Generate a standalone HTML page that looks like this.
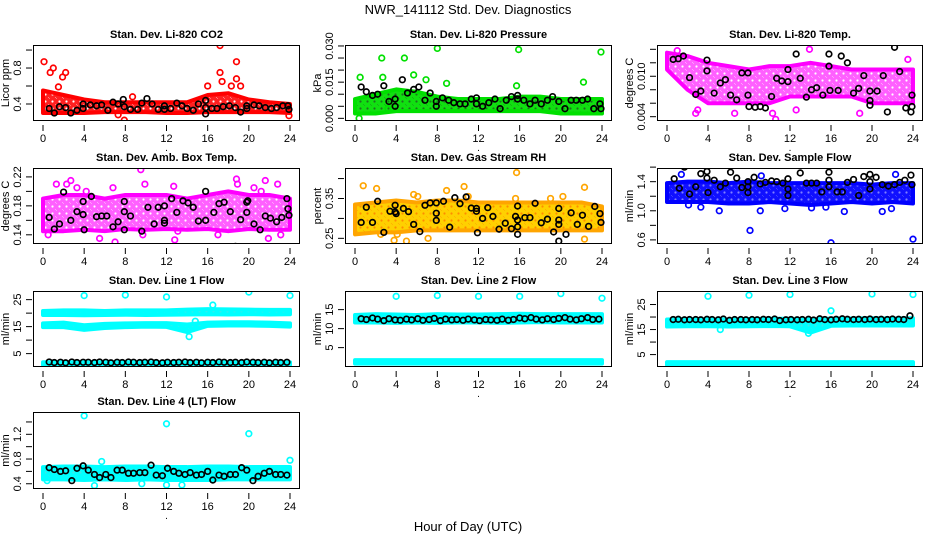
<!DOCTYPE html>
<html><head><meta charset="utf-8"><style>
html,body{margin:0;padding:0;background:#fff;}
svg text{font-family:"Liberation Sans",sans-serif;}
</style></head><body>
<svg id="chart" width="936" height="540" xmlns="http://www.w3.org/2000/svg">
<defs id="defs"></defs>
<text x="468" y="14" font-size="13" text-anchor="middle">NWR_141112  Std. Dev. Diagnostics</text>
<text x="468" y="531" font-size="13" text-anchor="middle">Hour of Day (UTC)</text>
</svg>
<script>
// ---- shared data ----
const bandHours = [0,2,4,6,8,10,12,14,16,18,20,22,24];
const xTicks = [0,4,8,12,16,20,24];
const hourGrid = [0.6,1.1,1.7,2.2,2.8,3.3,3.9,4.4,5.0,5.5,6.1,6.6,7.2,7.7,8.3,8.8,9.4,9.9,10.5,11.0,11.6,12.1,12.7,13.2,13.8,14.3,14.9,15.4,16.0,16.5,17.1,17.6,18.2,18.7,19.3,19.8,20.4,20.9,21.5,22.0,22.6,23.1,23.7];

// ---- panel 1: CO2 ----
const co2Lo = [0.30,0.30,0.30,0.31,0.31,0.31,0.30,0.30,0.31,0.31,0.31,0.31,0.30];
const co2Hi = [0.55,0.50,0.45,0.42,0.42,0.42,0.42,0.42,0.50,0.52,0.45,0.42,0.40];
const co2Out = [[0.1,0.87],[0.7,0.75],[1.0,0.80],[1.9,0.70],[2.2,0.75],[1.5,0.59],[7.9,0.22],[7.3,0.28],[16,0.6],[17.2,1.05],[17.2,0.75],[17.4,0.65],[18.8,0.87],[18.8,0.68],[18.3,0.60],[19.2,0.60],[23.9,0.27],[8.7,0.48]];
const co2Black = [[0.6,0.35],[1.1,0.30],[1.6,0.37],[2.2,0.36],[2.7,0.30],[3.3,0.33],[3.9,0.40],[3.9,0.35],[4.6,0.39],[5.2,0.38],[5.7,0.39],[6.3,0.33],[6.8,0.42],[7.3,0.40],[7.8,0.45],[7.9,0.37],[8.5,0.34],[9.2,0.34],[9.6,0.41],[10.1,0.46],[10.6,0.40],[11.2,0.34],[11.8,0.34],[11.8,0.38],[12.4,0.35],[13.0,0.41],[13.5,0.38],[14.0,0.35],[14.6,0.33],[15.1,0.40],[15.8,0.44],[15.8,0.29],[15.8,0.36],[16.4,0.35],[16.9,0.35],[17.5,0.37],[18.1,0.38],[18.7,0.36],[19.2,0.31],[19.8,0.38],[19.8,0.35],[20.5,0.39],[21.0,0.38],[21.6,0.36],[22.2,0.35],[22.7,0.36],[23.3,0.38],[23.8,0.38],[23.9,0.34]];

// ---- panel 2: pressure ----
const prLo = [0.002,0.002,0.003,0.003,0.003,0.003,0.003,0.003,0.003,0.003,0.002,0.002,0.002];
const prHi = [0.008,0.010,0.012,0.011,0.009,0.008,0.008,0.008,0.009,0.009,0.008,0.008,0.008];
const prOut = [[0.5,0.017],[0.4,0.0],[2.6,0.025],[2.7,0.017],[4.8,0.025],[5.7,0.018],[6.9,0.016],[8.0,0.029],[8.9,0.0145],[15.9,0.0285],[15.7,0.0135],[22.2,0.015],[23.9,0.0275],[3.2,0.004]];
const prBlack = [[0.6,0.013],[1.1,0.011],[1.7,0.0095],[2.2,0.010],[2.8,0.0135],[3.3,0.007],[3.9,0.008],[3.9,0.005],[4.6,0.016],[5.1,0.0105],[5.7,0.012],[6.2,0.013],[6.8,0.0075],[7.3,0.0105],[7.9,0.007],[7.9,0.005],[8.5,0.0085],[9.1,0.0075],[9.6,0.0065],[10.2,0.006],[10.7,0.006],[11.3,0.008],[11.8,0.0085],[11.8,0.006],[12.4,0.005],[13.0,0.0065],[13.6,0.008],[14.1,0.004],[14.7,0.0075],[15.2,0.009],[15.8,0.0095],[15.8,0.008],[16.4,0.0075],[17.0,0.006],[17.5,0.0075],[18.1,0.006],[18.7,0.0075],[19.2,0.009],[19.8,0.007],[20.4,0.004],[21.0,0.0075],[21.5,0.0075],[22.1,0.0075],[22.6,0.008],[23.2,0.004],[23.8,0.006],[23.9,0.004]];

// ---- panel 3: Li-820 temp ----
const tLo = [0.011,0.008,0.006,0.006,0.006,0.006,0.007,0.007,0.007,0.007,0.006,0.006,0.006];
const tHi = [0.0135,0.013,0.012,0.0115,0.011,0.0115,0.0115,0.012,0.0115,0.011,0.011,0.011,0.011];
const tOut = [[2.8,0.0045],[3.0,0.005],[6.6,0.0045],[10.3,0.0045],[10.6,0.0036],[12.6,0.005],[13.9,0.014],[18.8,0.0045],[23.5,0.0125],[1.0,0.0138]];
const tBlack = [[0.6,0.0125],[1.1,0.0126],[1.6,0.013],[2.2,0.0098],[2.8,0.0073],[3.3,0.0078],[3.9,0.0124],[3.9,0.0108],[4.6,0.0075],[5.2,0.009],[5.7,0.0095],[6.2,0.0072],[6.8,0.0065],[7.3,0.0105],[7.9,0.0105],[7.9,0.0072],[8.0,0.0055],[8.6,0.0054],[9.1,0.0055],[9.6,0.0053],[10.2,0.007],[10.7,0.0097],[11.2,0.0093],[11.8,0.011],[11.8,0.0092],[12.6,0.0133],[13.0,0.0097],[13.6,0.0069],[14.1,0.008],[14.6,0.0083],[15.2,0.0072],[15.8,0.0133],[15.8,0.0115],[15.9,0.0079],[16.7,0.0079],[17.0,0.013],[17.6,0.012],[18.2,0.0075],[18.7,0.0082],[19.2,0.0101],[19.8,0.0078],[19.8,0.0064],[19.8,0.0057],[20.5,0.0078],[21.1,0.0101],[21.5,0.0047],[22.2,0.0143],[22.7,0.0107],[23.3,0.0053],[23.9,0.0072],[23.9,0.0055],[23.8,0.0047]];

// ---- panel 4: amb box temp ----
const aLo = [0.145,0.145,0.147,0.145,0.148,0.147,0.148,0.147,0.148,0.145,0.148,0.147,0.147];
const aHi = [0.19,0.195,0.195,0.19,0.195,0.195,0.195,0.19,0.195,0.2,0.195,0.195,0.19];
const aOut = [[0.5,0.14],[1.3,0.21],[2.3,0.21],[2.7,0.215],[3.3,0.205],[4.2,0.2],[5.5,0.135],[6.8,0.205],[7.0,0.13],[9.5,0.23],[9.7,0.14],[9.9,0.21],[12.7,0.207],[12.8,0.133],[13.1,0.145],[17.0,0.14],[18.8,0.217],[18.9,0.21],[20.5,0.205],[21.2,0.2],[21.6,0.215],[22.8,0.21],[23.1,0.14],[21.9,0.135]];
const aBlack = [[0.6,0.164],[1.1,0.148],[1.6,0.155],[2.0,0.199],[2.7,0.16],[3.3,0.172],[3.9,0.186],[3.9,0.168],[4.0,0.147],[4.7,0.193],[5.2,0.165],[5.7,0.166],[6.2,0.166],[6.8,0.151],[7.3,0.158],[7.9,0.186],[7.9,0.172],[7.9,0.147],[8.5,0.166],[9.2,0.12],[9.6,0.145],[10.2,0.178],[10.8,0.155],[11.2,0.178],[11.8,0.18],[11.8,0.16],[11.8,0.156],[12.5,0.19],[13.0,0.171],[13.6,0.187],[14.1,0.184],[14.6,0.178],[15.1,0.159],[15.8,0.2],[15.8,0.16],[16.6,0.171],[17.1,0.183],[17.6,0.185],[18.2,0.172],[18.7,0.124],[19.2,0.161],[19.8,0.185],[19.8,0.171],[19.9,0.187],[20.5,0.155],[21.1,0.147],[21.6,0.166],[22.1,0.163],[22.7,0.158],[23.2,0.164],[23.7,0.19],[23.8,0.176],[23.9,0.167]];

// ---- panel 5: RH ----
const rhLo = [0.26,0.265,0.265,0.27,0.27,0.27,0.27,0.27,0.27,0.27,0.27,0.27,0.27];
const rhHi = [0.335,0.34,0.345,0.34,0.345,0.345,0.34,0.34,0.34,0.34,0.34,0.34,0.33];
const rhOut = [[0.8,0.382],[2.1,0.375],[2.5,0.26],[3.8,0.245],[4.1,0.26],[5.0,0.243],[5.7,0.36],[6.1,0.355],[7.1,0.25],[8.9,0.37],[10.6,0.38],[11.0,0.355],[15.7,0.415],[15.6,0.35],[20.2,0.355],[22.3,0.378],[22.3,0.248],[19.0,0.35]];
const rhBlack = [[0.6,0.29],[1.1,0.328],[1.7,0.29],[2.2,0.343],[2.8,0.265],[3.4,0.318],[3.9,0.333],[3.9,0.316],[4.0,0.312],[4.7,0.325],[5.2,0.317],[5.7,0.285],[6.3,0.267],[6.8,0.333],[7.3,0.339],[7.9,0.339],[7.9,0.313],[7.9,0.295],[8.6,0.343],[9.2,0.278],[9.7,0.352],[10.2,0.337],[10.8,0.354],[11.3,0.326],[11.8,0.325],[11.8,0.318],[11.9,0.264],[12.4,0.3],[12.9,0.327],[13.4,0.305],[14.0,0.273],[14.6,0.288],[15.2,0.274],[15.6,0.305],[15.8,0.331],[15.8,0.296],[15.8,0.279],[15.8,0.26],[16.5,0.302],[17.0,0.302],[17.5,0.338],[18.1,0.289],[18.7,0.298],[19.3,0.266],[19.8,0.325],[19.8,0.296],[19.8,0.285],[19.8,0.243],[20.5,0.26],[21.0,0.314],[21.6,0.285],[22.1,0.308],[22.7,0.28],[23.3,0.33],[23.8,0.312],[23.9,0.29]];

// ---- panel 6: sample flow ----
const sfLo = [1.12,1.12,1.12,1.1,1.1,1.12,1.1,1.08,1.1,1.12,1.1,1.12,1.1];
const sfHi = [1.38,1.4,1.4,1.38,1.4,1.38,1.38,1.38,1.38,1.38,1.36,1.38,1.38];
const sfOut = [[1.4,1.5],[2.1,1.08],[3.3,1.05],[5.1,1.0],[8.1,0.73],[9.1,1.0],[9.2,1.48],[11.5,1.03],[14.1,1.04],[16.0,0.56],[17.3,0.99],[21.0,0.99],[21.9,1.03],[22.3,1.5],[24.0,0.61],[15.5,1.05]];
const sfBlack = [[0.7,1.44],[1.2,1.31],[1.7,1.6],[2.2,1.23],[2.8,1.33],[3.3,1.51],[3.9,1.54],[3.9,1.45],[4.0,1.25],[4.6,1.42],[5.2,1.33],[5.7,1.38],[6.2,1.53],[6.8,1.45],[7.3,1.32],[7.9,1.4],[7.9,1.33],[7.9,1.25],[8.5,1.46],[9.1,1.37],[9.6,1.39],[10.2,1.41],[10.7,1.4],[11.3,1.38],[11.8,1.44],[11.8,1.3],[11.8,1.21],[13.0,1.52],[13.6,1.38],[14.1,1.38],[14.6,1.38],[15.1,1.26],[15.8,1.53],[15.8,1.42],[15.8,1.33],[16.6,1.26],[17.1,1.26],[17.6,1.39],[18.2,1.43],[18.7,1.21],[19.2,1.47],[19.8,1.5],[19.8,1.4],[19.8,1.3],[20.4,1.46],[21.0,1.36],[21.6,1.34],[22.2,1.36],[22.7,1.39],[23.2,1.42],[23.8,1.49],[23.9,1.36]];

// ---- panel 7: line 1 flow ----
const l1UpLo = [19.3,19.3,19.2,19.3,19.4,19.3,19.4,19.5,19.6,19.5,19.6,19.5,19.6];
const l1UpHi = [20.8,21,21,20.8,21,21,21,21.3,21.5,21.4,21.3,21.2,21.2];
const l1MidLo = [14.8,14.8,13.8,14.5,14.8,15,14.9,13.0,15.3,15.4,15.4,15.3,15.0];
const l1MidHi = [16.2,16.5,15.5,16,16.2,16.3,16.3,15.8,16.5,16.6,16.6,16.5,16.2];
const l1BotLo = [0.8,0.8,0.8,0.8,0.8,0.8,0.8,0.8,0.8,0.8,0.8,0.8,0.8];
const l1BotHi = [1.8,1.8,1.8,1.8,1.8,1.8,1.8,1.8,1.8,1.8,1.8,1.8,1.8];
const l1Out = [[4,26.5],[8,26.7],[12,26],[14.2,11.3],[16.5,23],[20,27.8],[24,26.5],[14.8,17]];
const l1BlackY = [1.9,1.7,1.8,1.6,1.9,1.7,1.8,1.8,1.7,1.9,1.8,1.6,1.8,1.7,1.9,1.8,1.7,1.8,1.9,1.7,1.6,1.8,1.7,1.8,1.9,1.7,1.8,1.6,1.8,1.7,1.9,1.8,1.7,1.8,1.7,1.9,1.8,1.7,1.8,1.6,1.8,1.7,1.8];

// ---- panel 8: line 2 flow ----
const l2Lo = [11.6,11.6,11.5,11.6,11.5,11.6,11.6,11.5,11.6,11.7,11.6,11.6,11.6];
const l2Hi = [13.6,13.8,13.7,13.6,13.8,13.7,13.7,13.8,13.9,13.8,13.8,13.8,13.8];
const l2BotLo = [0.8,0.8,0.8,0.8,0.8,0.8,0.8,0.8,0.8,0.8,0.8,0.8,0.8];
const l2BotHi = [1.7,1.7,1.7,1.7,1.7,1.7,1.7,1.7,1.7,1.7,1.7,1.7,1.7];
const l2Out = [[4,18.5],[8,18.7],[12,18.5],[16,18.5],[20,19.2],[24,18]];
const l2BlackY = [12.6,12.4,12.8,12.5,12.1,12.6,12.3,12.2,12.5,12.3,12.6,12.2,12.4,12.7,12.1,12.5,12.3,12.4,12.2,12.5,12.3,12.1,12.4,12.3,12.2,12.5,12.2,12.4,12.8,12.6,12.9,12.5,12.3,12.6,12.4,12.7,12.9,12.5,12.3,12.6,12.9,12.4,12.5];

// ---- panel 9: line 3 flow ----
const l3Lo = [16.2,16.3,16.3,16.2,16.3,16.4,16.3,13.8,16.5,16.6,16.6,16.6,16.6];
const l3Hi = [19.0,19.2,19.1,19.0,19.2,19.3,19.3,19.0,19.4,19.4,19.5,19.4,19.5];
const l3BotLo = [0.8,0.8,0.8,0.8,0.8,0.8,0.8,0.8,0.8,0.8,0.8,0.8,0.8];
const l3BotHi = [2.0,2.0,2.0,2.0,2.0,2.0,2.0,2.0,2.0,2.0,2.0,2.0,2.0];
const l3Out = [[4,28.3],[8,28.7],[12,29],[16,22.5],[20,29.2],[24,29],[13.8,13.5],[5.2,15]];
const l3BlackY = [19.0,19.1,18.9,19.0,19.0,18.9,19.1,19.0,18.9,19.2,18.7,19.0,19.0,18.9,19.0,18.9,19.1,19.0,19.2,18.6,18.9,19.0,18.9,19.0,19.1,18.8,19.3,19.0,18.9,19.1,19.3,19.1,19.0,19.1,19.0,19.2,19.0,19.1,19.0,19.2,19.1,19.0,20.5];

// ---- panel 10: line 4 flow ----
const l4Lo = [0.47,0.47,0.46,0.47,0.46,0.47,0.46,0.46,0.46,0.47,0.47,0.47,0.47];
const l4Hi = [0.67,0.68,0.68,0.67,0.68,0.68,0.67,0.67,0.68,0.68,0.67,0.67,0.67];
const l4Out = [[4,1.5],[12,1.37],[20,1.21],[24,0.78],[5,0.37],[12,0.38],[13.5,0.38],[9.6,0.4],[0.4,0.45],[5.7,0.76]];
const l4BlackY = [0.66,0.63,0.60,0.61,0.45,0.65,0.69,0.62,0.55,0.50,0.55,0.50,0.62,0.62,0.57,0.57,0.58,0.58,0.70,0.54,0.53,0.65,0.60,0.57,0.55,0.58,0.54,0.55,0.60,0.46,0.54,0.52,0.55,0.55,0.66,0.62,0.45,0.52,0.57,0.60,0.55,0.55,0.54];

// ---- layout ----
const colL = [33,345,657], colR = [300,612,923];
const rowT = [45,168,291,412], rowB = [121,244,367,489];

const panels = [
 {name:'co2',title:'Stan. Dev. Li-820 CO2',ylab:'Licor ppm',c:0,r:0,top:1.056,bot:0.211,ticks:[0.4,0.6,0.8,1.0],labels:['0.4','','0.8',''],color:'#ff0000',bg:'#ff2020',fg:'#ffffff',bands:[[co2Lo,co2Hi]],out:co2Out,black:co2Black},
 {name:'pressure',title:'Stan. Dev. Li-820 Pressure',ylab:'kPa',c:1,r:0,top:0.0304,bot:-0.0011,ticks:[0,0.005,0.01,0.015,0.02,0.025,0.03],labels:['0.000','','','0.015','','','0.030'],color:'#00e000',bg:'#10e010',fg:'#207020',bands:[[prLo,prHi]],out:prOut,black:prBlack},
 {name:'li820-temp',title:'Stan. Dev. Li-820 Temp.',ylab:'degrees C',c:2,r:0,top:0.01464,bot:0.00336,ticks:[0.004,0.006,0.008,0.010,0.012,0.014],labels:['0.004','','','0.010','',''],color:'#ff00ff',bg:'#ff60ff',fg:'#ffffff',bands:[[tLo,tHi]],out:tOut,black:tBlack},
 {name:'amb-box-temp',title:'Stan. Dev. Amb. Box Temp.',ylab:'degrees C',c:0,r:1,top:0.2323,bot:0.1273,ticks:[0.14,0.16,0.18,0.20,0.22],labels:['0.14','','0.18','','0.22'],color:'#ff00ff',bg:'#ff60ff',fg:'#ffffff',bands:[[aLo,aHi]],out:aOut,black:aBlack},
 {name:'gas-stream-rh',title:'Stan. Dev. Gas Stream RH',ylab:'percent',c:1,r:1,top:0.4265,bot:0.2358,ticks:[0.25,0.30,0.35,0.40],labels:['0.25','','0.35',''],color:'#ffa500',bg:'#ffd000',fg:'#ff8c00',bands:[[rhLo,rhHi]],out:rhOut,black:rhBlack},
 {name:'sample-flow',title:'Stan. Dev. Sample Flow',ylab:'ml/min',c:2,r:1,top:1.588,bot:0.5435,ticks:[0.6,0.8,1.0,1.2,1.4,1.6],labels:['0.6','','1.0','','1.4',''],color:'#0000ff',bg:'#1010ff',fg:'#8080ff',bands:[[sfLo,sfHi]],out:sfOut,black:sfBlack},
 {name:'line1-flow',title:'Stan. Dev. Line 1 Flow',ylab:'ml/min',c:0,r:2,top:28.2,bot:0.04,ticks:[5,10,15,20,25],labels:['5','','15','','25'],color:'#00ffff',bg:'#00ffff',fg:'#40e8e8',bands:[[l1UpLo,l1UpHi],[l1MidLo,l1MidHi],[l1BotLo,l1BotHi]],out:l1Out,blackY:l1BlackY},
 {name:'line2-flow',title:'Stan. Dev. Line 2 Flow',ylab:'ml/min',c:1,r:2,top:19.9,bot:-0.1,ticks:[5,10,15],labels:['5','10','15'],color:'#00ffff',bg:'#00ffff',fg:'#40e8e8',bands:[[l2Lo,l2Hi],[l2BotLo,l2BotHi]],out:l2Out,blackY:l2BlackY},
 {name:'line3-flow',title:'Stan. Dev. Line 3 Flow',ylab:'ml/min',c:2,r:2,top:30.4,bot:0.04,ticks:[5,10,15,20,25],labels:['5','','15','','25'],color:'#00ffff',bg:'#00ffff',fg:'#40e8e8',bands:[[l3Lo,l3Hi],[l3BotLo,l3BotHi]],out:l3Out,blackY:l3BlackY},
 {name:'line4-flow',title:'Stan. Dev. Line 4 (LT) Flow',ylab:'ml/min',c:0,r:3,top:1.561,bot:0.315,ticks:[0.4,0.6,0.8,1.0,1.2,1.4],labels:['0.4','','0.8','','1.2',''],color:'#00ffff',bg:'#00ffff',fg:'#40e8e8',bands:[[l4Lo,l4Hi]],out:l4Out,blackY:l4BlackY}
];

const NS = 'http://www.w3.org/2000/svg';
const svg = document.getElementById('chart');
const defs = document.getElementById('defs');
function mk(tag, attrs, parent){
  const e = document.createElementNS(NS, tag);
  for (const k in attrs) e.setAttribute(k, attrs[k]);
  (parent||svg).appendChild(e);
  return e;
}

panels.forEach(p => {
  const L = colL[p.c], R = colR[p.c], T = rowT[p.r], B = rowB[p.r];
  const xs = h => (L+10) + h/24*((R-10)-(L+10));
  const ys = v => T + (p.top - v)/(p.top - p.bot)*(B-T);
  // texture pattern
  const pat = mk('pattern', {id:'pat-'+p.name, patternUnits:'userSpaceOnUse', width:7, height:7}, defs);
  mk('rect', {x:0, y:0, width:7, height:7, fill:p.bg}, pat);
  mk('circle', {cx:3.5, cy:3.5, r:1.1, fill:p.fg}, pat);
  mk('circle', {cx:0, cy:0, r:0.7, fill:p.fg}, pat);
  mk('circle', {cx:7, cy:7, r:0.7, fill:p.fg}, pat);

  const g = mk('g', {});
  
  
  const clip = mk('clipPath', {id:'clip-'+p.name}, g);
  mk('rect', {x:L, y:T, width:R-L, height:B-T}, clip);
  const plot = mk('g', {'clip-path':'url(#clip-'+p.name+')'}, g);
  
  
  // bands
  p.bands.forEach((bd, bi) => {
    const lo = bd[0], hi = bd[1];
    let pts = [];
    bandHours.forEach((h,i) => pts.push(xs(h)+','+ys(hi[i])));
    for (let i = bandHours.length-1; i >= 0; i--) pts.push(xs(bandHours[i])+','+ys(lo[i]));
    const poly = mk('polygon', {points:pts.join(' '), fill:'url(#pat-'+p.name+')', stroke:p.color, 'stroke-width':4, 'stroke-linejoin':'round'}, plot);
    
    
  });
  // outliers
  p.out.forEach(pt => {
    const c = mk('circle', {cx:xs(pt[0]), cy:ys(pt[1]), r:2.8, fill:'none', stroke:p.color, 'stroke-width':1.7}, plot);
    
    
  });
  // black points
  const blk = p.black ? p.black : p.blackY.map((v,i) => [hourGrid[i], v]);
  blk.forEach(pt => {
    const c = mk('circle', {cx:xs(pt[0]), cy:ys(pt[1]), r:2.8, fill:'none', stroke:'#000', 'stroke-width':1.7}, plot);
    
    
  });
  // box
  const box = mk('rect', {x:L+0.5, y:T+0.5, width:R-L-1, height:B-T-1, fill:'none', stroke:'#000', 'stroke-width':1}, g);
  
  
  // title
  const t = mk('text', {x:(L+R)/2, y:T-7, 'font-size':11, 'font-weight':'bold', 'text-anchor':'middle'}, g);
  t.textContent = p.title;
  
  
  // x axis
  xTicks.forEach(h => {
    mk('line', {x1:xs(h), x2:xs(h), y1:B+4, y2:B+10, stroke:'#000', 'stroke-width':1}, g);
    const tl = mk('text', {x:xs(h), y:B+21, 'font-size':11, 'text-anchor':'middle'}, g);
    tl.textContent = String(h);
    
    
  });
  const dot = mk('text', {x:(L+R)/2, y:B+30, 'font-size':10, 'text-anchor':'middle'}, g);
  dot.textContent = '.';
  // y axis
  p.ticks.forEach((v,i) => {
    const y = ys(v);
    mk('line', {x1:L-7, x2:L-1, y1:y, y2:y, stroke:'#000', 'stroke-width':1}, g);
    if (p.labels[i]) {
      const tl = mk('text', {x:L-12, y:y, 'font-size':11, 'text-anchor':'middle', transform:'rotate(-90 '+(L-12)+' '+y+')'}, g);
      tl.textContent = p.labels[i];
      
      
    }
  });
  const yl = mk('text', {x:L-24, y:(T+B)/2, 'font-size':11, 'text-anchor':'middle', transform:'rotate(-90 '+(L-24)+' '+((T+B)/2)+')'}, g);
  yl.textContent = p.ylab;
  
  
});
</script>
</body></html>
